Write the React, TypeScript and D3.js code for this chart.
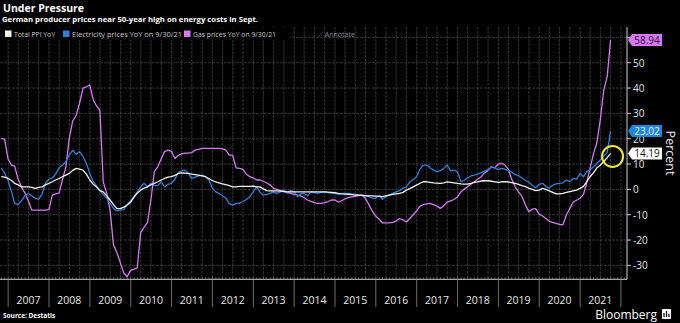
import React from 'react';
import * as d3 from 'd3';

// Monthly YoY % values, first point = Oct 2006 (dated month end), last = Sep 2021
const ppi = [
  5, 4.8, 4.3, 3.5, 2.4, 1.8, 1, 1, 1, 0.8, 0.4, 0.8,
  1, 1.8, 2.4, 3, 3.7, 4.3, 5, 5.6, 6.3, 7.5, 8.3, 8,
  7.6, 6, 3.7, 2, 1, -0.5, -1, -2.5, -4.2, -6, -7.6, -7.6,
  -7, -6.2, -5, -3, -1.5, -0.3, 0.5, 1, 1.8, 2.4, 3, 3.7,
  4.3, 4.8, 5, 5.5, 6.2, 6.5, 6.4, 6.3, 6, 5.8, 5.6, 5.3,
  5, 4.3, 3.5, 3, 2.6, 2.2, 1.9, 1.5, 1, 1, 1.2, 1.2,
  1.2, 1.2, 1.3, 1, 1, 0.2, -0.5, -0.6, -0.6, -0.6, -0.7, -0.8,
  -1, -1, -1, -1, -1, -1, -1, -1, -1, -1, -1, -1,
  -1.1, -1.2, -1.3, -1.6, -1.8, -1.9, -2, -2.1, -2.3, -2.3, -2.4, -2.5,
  -2.6, -2.6, -2.7, -2.8, -2.9, -2.6, -2.3, -2, -1.8, -1.6, -1.2, -0.3,
  0.3, 1, 1.7, 2.4, 3, 3, 2.8, 2.6, 2.5, 2.4, 2.6, 3,
  2.8, 2.6, 2.4, 2.2, 2.1, 2.1, 2.4, 2.8, 3, 3.3, 3.4, 3.4,
  3.2, 3, 2.8, 3, 3, 2.9, 2.7, 2.4, 2, 1.5, 1.1, 0.5,
  0, -0.5, -0.3, 0.4, 0, -0.6, -1.2, -1.8, -1.8, -1.6, -1.2, -0.9,
  -0.6, -0.3, 0.4, 1.2, 3, 5, 6.5, 8.5, 9.5, 11, 12.5, 14.19,
];

const electricity = [
  8.5, 6.5, 3.5, -1, -5.5, -6, -4.5, -2.5, -1.6, -2.5, -3.5, -3.9,
  -2, 2.4, 4, 4.5, 6, 8.5, 9.5, 11, 13.5, 15.5, 13.8, 14.9,
  13, 10.3, 6.3, 3, 1.5, -0.5, -2, -3.5, -5.5, -7.5, -8.5, -8.2,
  -8, -6, -4.5, -2.9, -1, 1, 2.4, 1, 2.4, 1.5, 1.5, 3,
  1, 2, 2.4, 4, 6.5, 7.3, 7.6, 6.3, 4.3, 4.8, 5.3, 5.6,
  5, 3.7, 0.5, -1, -1.6, -2.5, -3.5, -5.5, -6.2, -5.5, -5.5, -4.8,
  -4, -3, -1, 1, -1, -2.3, -2, -1.6, -1, -1.6, -1, -0.3,
  -1.5, -0.5, -1, -2.9, -1.8, -1.6, -2.5, -1, -1.3, -1.6, -1.2, -1,
  -1.3, -1.6, -1.6, -2, -1.6, -1.6, -1.6, -1.8, -2, -2.2, -2.3, -2.6,
  -2.8, -3.5, -3.5, -2.3, -3.9, -2.9, -2.3, -1.6, -1, -0.5, 0.5, 1,
  3, 3.8, 5, 8, 9.6, 9.6, 8.5, 7.6, 7, 7.4, 8.3, 9.6,
  7.3, 7.6, 7, 3, 3.5, 4.5, 5.3, 5.6, 6, 6.6, 7.2, 7.8,
  8.9, 8.5, 7.8, 8.3, 8, 7.5, 6.8, 5.8, 5.5, 4.5, 3.5, 2.8,
  1.6, 0.6, 2, 2.4, 1.2, 0.5, 1.6, 2.2, 2.4, 2.6, 3.7, 3.1,
  4.3, 4, 6.3, 5, 7, 7.6, 8.9, 10.3, 11.6, 13.2, 14.5, 23.02,
];

const gas = [
  20, 19.8, 12, 9.6, 9.2, 4, 1, -1.5, -4.5, -8.2, -8.2, -8.2,
  -8.2, -8.2, -8, -2.3, -1.8, -1.5, 3.7, 8.9, 20, 27, 29.2, 34,
  40, 40.5, 41.2, 35.3, 33, 31.3, 3, -1.6, -8.2, -22, -25, -29,
  -33, -34.5, -32, -31.5, -31, -17, -15, -13, -4.2, 7, 9, 12,
  14.9, 15.5, 15, 12.2, 13.3, 14, 14.3, 14.3, 14.5, 15.5, 15.8, 16.2,
  16.2, 16.2, 16.2, 16.2, 16.2, 16, 15.5, 13.5, 13.5, 8.5, 8.3, 7.9,
  6, 5, 4.5, 3.7, 3.7, 3.2, 2.5, 1.8, 0.4, 0, -0.5, -0.9,
  -1.2, -1.6, -2, -2.3, -2.6, -3.2, -4.2, -4.7, -5.2, -5.5, -5.5, -5.2,
  -4.8, -4.2, -4.2, -5, -4.5, -3.8, -3.3, -3, -2.8, -2.5, -2.3, -3.5,
  -6, -8.5, -10.5, -11.8, -13.2, -13.2, -13.2, -13, -12.5, -11.5, -12, -12.9,
  -11.5, -10, -8.5, -6.6, -6, -5.7, -5.5, -6, -6.6, -7.5, -6.5, -5,
  -4.5, -4, -3, -1, 0, 1, 2, 3, 4, 5, 6.5, 7.5,
  8.9, 8.5, 10, 10.3, 9.6, 8, 4, 1, -1, -2.8, -6.2, -8.8,
  -7.8, -7.6, -9.8, -10.5, -11.5, -12.6, -13, -13.4, -13.8, -14, -10.1, -7.6,
  -5, -4.3, -3.5, -2, 2.4, 8.3, 14, 18.5, 27.4, 39.2, 44.5, 58.94,
];

const yearLabels = ['2007', '2008', '2009', '2010', '2011', '2012', '2013', '2014',
  '2015', '2016', '2017', '2018', '2019', '2020', '2021'];
const yTicks = [-30, -20, -10, 0, 10, 20, 30, 40, 50];
const gridTicks = [-30, -20, -10, 0, 10, 20, 30, 40, 50, 60];

const seriesNames = ['Total PPI YoY', 'Electricity prices YoY on 9/30/21', 'Gas prices YoY on 9/30/21'];
const seriesColors = ['#f2f2ec', '#2f80d8', '#d57af2'];

const W = 680, H = 323;
const PLOT_L = 0, PLOT_R = 627, PLOT_T = 27, PLOT_B = 279.3;

// month-end dates, first = 31 Oct 2006
const dateAt = (i: number) => new Date(2006, 10 + i, 0);

export default function App() {
  const x = d3.scaleTime()
    .domain([new Date(2006, 9, 20), new Date(2022, 1, 24)])
    .range([PLOT_L, PLOT_R]);
  const y = d3.scaleLinear().domain([-35.5, 63.7]).range([PLOT_B, 28]);

  const line = d3.line<number>()
    .x((_, i) => x(dateAt(i)))
    .y((d) => y(d));

  const quarters = x.ticks(d3.timeMonth.every(3) as any);
  const yearStarts = x.ticks(d3.timeYear.every(1) as any);
  const months = x.ticks(d3.timeMonth.every(1) as any);

  const font = "'Open Sans', 'DejaVu Sans', sans-serif";

  const lastLabels = [
    { v: gas[gas.length - 1], bg: '#d57af2', fg: '#2a0a33' },
    { v: electricity[electricity.length - 1], bg: '#1f86e0', fg: '#e8f2ff' },
    { v: ppi[ppi.length - 1], bg: '#ffffff', fg: '#111111' },
  ];

  const legendItems = [
    { x: 5, w: 41 },
    { x: 63, w: 110 },
    { x: 184, w: 83 },
  ];

  const seriesList = [ppi, electricity, gas];
  const drawOrder = [2, 1, 0];

  const lastX = x(dateAt(ppi.length - 1));
  const lastYppi = y(ppi[ppi.length - 1]);

  return (
    <svg width={W} height={H} style={{ position: 'absolute', left: 0, top: 0, background: '#000' }}
      fontFamily={font}>
      <rect x={0} y={0} width={W} height={H} fill="#000" />
      {/* grid */}
      <g>
        {quarters.map((d, i) => (
          <line key={'vq' + i} x1={x(d)} x2={x(d)} y1={PLOT_T} y2={PLOT_B}
            stroke="#4a4a4a" strokeWidth={0.7} strokeDasharray="3,1" />
        ))}
        {gridTicks.map((t) => (
          <line key={'hg' + t} x1={PLOT_L} x2={PLOT_R} y1={y(t)} y2={y(t)}
            stroke="#4a4a4a" strokeWidth={0.7} strokeDasharray="3,1" />
        ))}
      </g>
      {/* axes */}
      <line x1={PLOT_L} x2={PLOT_R} y1={PLOT_B} y2={PLOT_B} stroke="#cfcfcf" strokeWidth={1} />
      <line x1={PLOT_R} x2={PLOT_R} y1={PLOT_T} y2={PLOT_B} stroke="#cfcfcf" strokeWidth={1} />
      {months.map((d, i) => (
        <line key={'mt' + i} x1={x(d)} x2={x(d)} y1={PLOT_B - 2} y2={PLOT_B}
          stroke="#9a9a9a" strokeWidth={0.6} />
      ))}
      {yearStarts.map((d, i) => (
        <line key={'ys' + i} x1={x(d)} x2={x(d)} y1={PLOT_B} y2={307}
          stroke="#8a8a8a" strokeWidth={0.8} />
      ))}
      {yearLabels.map((lab) => (
        <text key={lab} x={x(new Date(+lab, 6, 1))} y={303.5} fill="#e6e6e6" fontSize={10.5}
          textAnchor="middle">{lab}</text>
      ))}
      {gridTicks.map((t) => (
        <line key={'yt' + t} x1={PLOT_R} x2={PLOT_R + 4} y1={y(t)} y2={y(t)} stroke="#cfcfcf" strokeWidth={1} />
      ))}
      {yTicks.map((t) => (
        <text key={'yl' + t} x={PLOT_R + 6} y={y(t) + 4} fill="#e6e6e6" fontSize={10}>
          {t < 0 ? '-' + Math.abs(t) : String(t)}
        </text>
      ))}

      {/* series */}
      {drawOrder.map((si) => (
        <path key={'s' + si} d={line(seriesList[si]) || ''} fill="none"
          stroke={seriesColors[si]} strokeWidth={1.3} strokeLinejoin="round" />
      ))}

      {/* highlight circle */}
      <circle cx={lastX + 2} cy={lastYppi + 3} r={10.5} fill="none" stroke="#f3e82a" strokeWidth={2} />

      {/* last value labels */}
      {lastLabels.map((l, i) => {
        const cy = y(l.v);
        const x0 = PLOT_R + 1, x1 = 662, hh = 6;
        return (
          <g key={'ll' + i}>
            <path d={`M${x0},${cy} L${x0 + 4},${cy - hh} L${x1},${cy - hh} L${x1},${cy + hh} L${x0 + 4},${cy + hh} Z`}
              fill={l.bg} />
            <text x={(x0 + 4 + x1) / 2} y={cy + 3.5} fill={l.fg} fontSize={10} textAnchor="middle">
              {l.v.toFixed(2)}
            </text>
          </g>
        );
      })}
      <text transform={`translate(666,153) rotate(90)`} fill="#eeeeee" fontSize={12.5} textAnchor="middle">Percent</text>

      {/* title */}
      <text x={3} y={12} fill="#ffffff" fontSize={10.5} fontWeight="bold">Under Pressure</text>
      <text x={2} y={22} fill="#ffffff" fontSize={7.6} fontWeight="bold" textLength={256}
        lengthAdjust="spacingAndGlyphs">German producer prices near 50-year high on energy costs in Sept.</text>

      {/* legend */}
      <rect x={0} y={28} width={290} height={12} fill="#000" />
      {seriesNames.map((n, i) => (
        <g key={'lg' + i}>
          <rect x={legendItems[i].x} y={30.5} width={6.5} height={6.5} fill={seriesColors[i]} />
          <text x={legendItems[i].x + 9} y={37} fill="#c8c8c8" fontSize={7.6}
            textLength={legendItems[i].w} lengthAdjust="spacingAndGlyphs">{n}</text>
        </g>
      ))}
      <text x={318} y={37} fill="#8a8a8a" fontSize={7}>⟋ Annotate</text>

      {/* footer */}
      <text x={3} y={318} fill="#ffffff" fontSize={6.5} fontWeight="bold">Source:  Destatis</text>
      <text x={657} y={319} fill="#ffffff" fontSize={12} textAnchor="end">Bloomberg</text>
      <rect x={662} y={309} width={9} height={10} fill="#ffffff" rx={1} />
      <path d="M664,317 L664,313 M666.5,317 L666.5,311 M669,317 L669,314" stroke="#000" strokeWidth={1.2} />
    </svg>
  );
}
